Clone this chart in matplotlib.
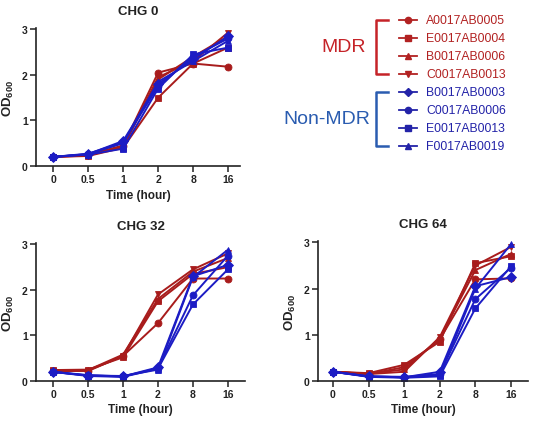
import matplotlib
matplotlib.use('Agg')
import matplotlib.pyplot as plt
import numpy as np

plt.rcParams['font.family'] = ['Liberation Sans', 'DejaVu Sans']
plt.rcParams['mathtext.fontset'] = 'custom'
plt.rcParams['mathtext.rm'] = 'Liberation Sans'
plt.rcParams['mathtext.bf'] = 'Liberation Sans:bold'

# time points (categorical x axis)
times = ['0', '0.5', '1', '2', '8', '16']

strains = ['A0017AB0005', 'E0017AB0004', 'B0017AB0006', 'C0017AB0013',
           'B0017AB0003', 'C0017AB0006', 'E0017AB0013', 'F0017AB0019']
groups = ['MDR', 'MDR', 'MDR', 'MDR', 'Non-MDR', 'Non-MDR', 'Non-MDR', 'Non-MDR']
markers = ['o', 's', '^', 'v', 'D', 'o', 's', '^']

# OD600 readings, one row per strain (same order as strains)
chg0 = [
    [0.20, 0.25, 0.45, 2.05, 2.25, 2.18],
    [0.20, 0.22, 0.40, 1.50, 2.25, 2.60],
    [0.20, 0.24, 0.42, 1.90, 2.40, 2.85],
    [0.20, 0.23, 0.43, 1.95, 2.30, 2.93],
    [0.20, 0.26, 0.55, 1.80, 2.35, 2.85],
    [0.20, 0.27, 0.52, 1.75, 2.40, 2.80],
    [0.20, 0.25, 0.38, 1.70, 2.45, 2.60],
    [0.20, 0.26, 0.50, 1.85, 2.30, 2.75],
]
chg32 = [
    [0.22, 0.22, 0.55, 1.27, 2.25, 2.25],
    [0.24, 0.25, 0.52, 1.75, 2.35, 2.50],
    [0.23, 0.24, 0.58, 1.80, 2.40, 2.70],
    [0.22, 0.23, 0.55, 1.90, 2.45, 2.80],
    [0.20, 0.12, 0.10, 0.30, 2.30, 2.55],
    [0.20, 0.13, 0.10, 0.28, 1.88, 2.75],
    [0.20, 0.11, 0.09, 0.27, 1.68, 2.45],
    [0.20, 0.12, 0.11, 0.25, 2.28, 2.88],
]
chg64 = [
    [0.20, 0.15, 0.30, 0.90, 2.20, 2.22],
    [0.20, 0.17, 0.35, 0.85, 2.55, 2.70],
    [0.20, 0.16, 0.25, 0.92, 2.40, 2.75],
    [0.20, 0.15, 0.20, 0.95, 2.50, 2.90],
    [0.20, 0.10, 0.08, 0.20, 2.05, 2.25],
    [0.20, 0.10, 0.09, 0.15, 1.77, 2.45],
    [0.20, 0.09, 0.07, 0.10, 1.57, 2.48],
    [0.20, 0.10, 0.08, 0.12, 2.00, 2.96],
]

red = '#A81C1C'
blue = '#1C1CC4'
colors = {'MDR': red, 'Non-MDR': blue}

fig = plt.figure(figsize=(5.4, 4.27), dpi=100)
W, H = 540.0, 427.0


def px_axes(left, top, right, bottom):
    return fig.add_axes([left / W, 1 - bottom / H, (right - left) / W, (bottom - top) / H])


panels = [
    ('CHG 0', chg0, (36, 29, 240, 167), (-0.49, 5.34)),
    ('CHG 32', chg32, (36, 244, 245, 382), (-0.49, 5.49)),
    ('CHG 64', chg64, (318, 242, 528, 382), (-0.42, 5.48)),
]

x = np.arange(len(times))
for title, data, box, xl in panels:
    ax = px_axes(*box)
    for vals, g, m in zip(data, groups, markers):
        ax.plot(x, vals, color=colors[g], marker=m, markersize=5, lw=1.4,
                markeredgewidth=0.6)
    ax.set_xlim(*xl)
    ax.set_ylim(0, 3.03)
    ax.set_xticks(x)
    ax.set_xticklabels(times)
    ax.set_yticks([0, 1, 2, 3])
    for s in ['top', 'right']:
        ax.spines[s].set_visible(False)
    for s in ['left', 'bottom']:
        ax.spines[s].set_linewidth(1.2)
        ax.spines[s].set_color('#222222')
    ax.tick_params(axis='both', which='major', direction='out', length=4, width=1.1,
                   labelsize=7.5, pad=2, color='#222222')
    for lab in ax.get_xticklabels() + ax.get_yticklabels():
        lab.set_fontweight('bold')
        lab.set_color('#222222')
    ax.set_xlabel('Time (hour)', fontsize=8.5, fontweight='bold', labelpad=3, color='#222222')
    ax.set_ylabel(r'$\mathbf{OD}_{\mathbf{600}}$', fontsize=9.5, labelpad=4, color='#222222')
    ax.set_title(title, fontsize=9.5, fontweight='bold', pad=10, color='#222222')

# legend with group brackets, drawn in pixel coordinates
lg = fig.add_axes([0, 0, 1, 1])
lg.set_xlim(0, W)
lg.set_ylim(H, 0)
lg.axis('off')

row_y = [21, 39, 57, 75, 93, 111, 129, 147]
for yy, name, g, m in zip(row_y, strains, groups, markers):
    c = '#B22222' if g == 'MDR' else '#2323A8'
    lg.plot([399, 417], [yy, yy], color=c, lw=1.3)
    lg.plot([408], [yy], color=c, marker=m, markersize=4.5)
    lg.text(426, yy, name, color=c, fontsize=8.8, va='center', ha='left')

br_red = '#C52328'
br_blue = '#2A5CB0'
lg.plot([388, 376, 376, 388], [21, 21, 75, 75], color=br_red, lw=1.8)
lg.plot([388, 376, 376, 388], [93, 93, 147, 147], color=br_blue, lw=1.8)
lg.text(344, 48, 'MDR', color=br_red, fontsize=14, ha='center', va='center')
lg.text(327, 120, 'Non-MDR', color=br_blue, fontsize=14, ha='center', va='center')

fig.savefig('out.png', dpi=100)
